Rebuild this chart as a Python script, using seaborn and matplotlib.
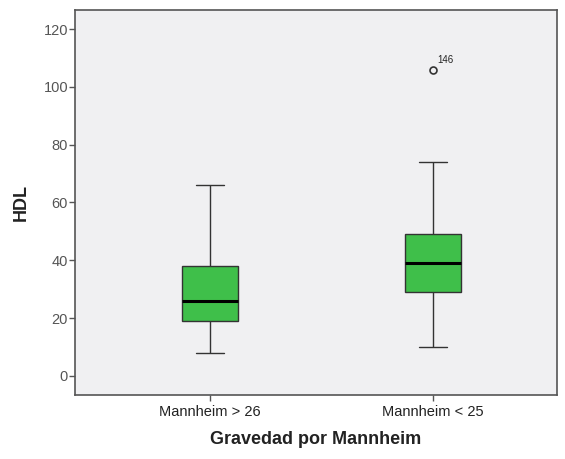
import matplotlib
matplotlib.use("Agg")
import matplotlib.pyplot as plt
import seaborn as sns
import pandas as pd

categories = ["Mannheim > 26", "Mannheim < 25"]
# values (chosen so quartiles/whiskers match the reference)
hdl_grupo1 = [8, 19, 26, 38, 66]
hdl_grupo2 = [10, 29, 29, 39, 39, 49, 49, 74, 106]
outlier_label = "146"
outlier_value = 106
yticks = [0, 20, 40, 60, 80, 100, 120]

df = pd.DataFrame({
    "grupo": [categories[0]] * len(hdl_grupo1) + [categories[1]] * len(hdl_grupo2),
    "HDL": hdl_grupo1 + hdl_grupo2,
})

sns.set_style("white")
plt.rcParams["font.family"] = ["Liberation Sans", "DejaVu Sans"]

fig = plt.figure(figsize=(5.65, 4.59), dpi=100)
ax = fig.add_axes([75 / 565, 1 - 395 / 459, (557 - 75) / 565, (395 - 10) / 459])
ax.set_facecolor("#f0f0f2")
fig.patch.set_facecolor("white")

sns.boxplot(data=df, x="grupo", y="HDL", order=categories, ax=ax,
            color="#3fbf4a", saturation=1, width=0.25, linecolor="#333333",
            linewidth=1.0, whis=1.5,
            flierprops=dict(marker="o", markersize=5, markerfacecolor="none",
                            markeredgecolor="#333333", markeredgewidth=1.2),
            medianprops=dict(color="black", linewidth=2.2))

ax.annotate(outlier_label, xy=(1, outlier_value), xytext=(3, 5),
            textcoords="offset points", fontsize=7, color="#222222")

ax.set_xlim(-0.605, 1.556)
ax.set_ylim(-6.6, 126.6)
ax.set_yticks(yticks)
ax.set_yticklabels([str(t) for t in yticks], color="#555555", fontsize=10.5)
ax.tick_params(axis="y", length=4, width=1, color="#555555", left=True, pad=1)
ax.tick_params(axis="x", length=4, width=1, color="#555555", bottom=True, pad=3,
               labelsize=10.5, labelcolor="#222222")
for s in ax.spines.values():
    s.set_color("#555555")
    s.set_linewidth(1.2)

ax.set_xlabel("Gravedad por Mannheim", fontsize=13, fontweight="bold",
              color="#222222", labelpad=9)
ax.set_ylabel("HDL", fontsize=13, fontweight="bold", color="#222222", labelpad=10)

fig.savefig("out.png", dpi=100)
